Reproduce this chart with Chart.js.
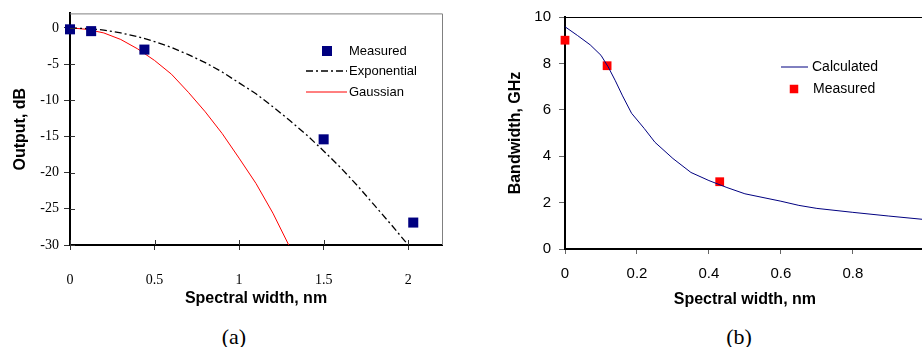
<!DOCTYPE html>
<html>
<head>
<meta charset="utf-8">
<script src="https://cdn.jsdelivr.net/npm/chart.js@4.4.0/dist/chart.umd.min.js"></script>
<style>
  body { margin: 0; width: 922px; height: 347px; overflow: hidden; background: #fff; position: relative; }
  .box { position: absolute; top: 0; height: 320px; }
  #boxA { left: 0; width: 461px; }
  #boxB { left: 461px; width: 470px; }
  .cap { position: absolute; top: 324px; width: 60px; text-align: center; line-height: 26px;
         font-family: "Liberation Serif", "Times New Roman", serif; font-size: 22px; }
</style>
</head>
<body>
<div class="box" id="boxA"><canvas id="chartA"></canvas></div>
<div class="box" id="boxB"><canvas id="chartB"></canvas></div>
<div class="cap" style="left:204px">(a)</div>
<div class="cap" style="left:709px">(b)</div>
<script>
  // (a) output vs spectral width
  const measAx = [0, 0.125, 0.44, 1.5, 2.03];
  const measAy = [-0.2, -0.45, -3.0, -15.4, -26.9];
  const expAx = [0, 0.1, 0.2, 0.3, 0.4, 0.5, 0.6, 0.7, 0.8, 0.9, 1.0, 1.1, 1.2, 1.3, 1.4, 1.5, 1.6, 1.7, 1.8, 1.9, 2.0];
  const expAy = [0, -0.1, -0.3, -0.7, -1.2, -1.9, -2.7, -3.7, -4.8, -6.1, -7.6, -9.1, -10.9, -12.8, -14.8, -17.0, -19.3, -21.8, -24.5, -27.2, -30.0];
  const gaussAx = [0, 0.1, 0.2, 0.3, 0.4, 0.5, 0.6, 0.7, 0.8, 0.9, 1.0, 1.1, 1.2, 1.3];
  const gaussAy = [0, -0.2, -0.7, -1.6, -2.9, -4.5, -6.4, -8.9, -11.6, -14.6, -18.0, -21.5, -25.6, -30.3];
  const xTicksA = [0, 0.5, 1, 1.5, 2];
  const yTicksA = [0, -5, -10, -15, -20, -25, -30];

  // (b) bandwidth vs spectral width
  const calcBx = [0, 0.035, 0.07, 0.1, 0.12, 0.14, 0.16, 0.185, 0.22, 0.25, 0.3, 0.35, 0.4, 0.45, 0.5, 0.6, 0.65, 0.7, 0.8, 0.9, 1.0];
  const calcBy = [9.58, 9.2, 8.8, 8.35, 7.85, 7.25, 6.6, 5.85, 5.2, 4.6, 3.9, 3.3, 2.95, 2.65, 2.38, 2.06, 1.88, 1.75, 1.58, 1.42, 1.27];
  const measBx = [0, 0.117, 0.43];
  const measBy = [9.0, 7.9, 2.9];
  const xTicksB = [0, 0.2, 0.4, 0.6, 0.8];
  const yTicksB = [0, 2, 4, 6, 8, 10];

  const pts = (xs, ys) => xs.map((x, i) => ({ x: x, y: ys[i] }));
  const setTicks = list => scale => { scale.ticks = list.map(v => ({ value: v })); };

  const SANS = '"Liberation Sans", Arial, sans-serif';
  const SERIF = '"Liberation Serif", "Times New Roman", serif';

  Chart.defaults.color = '#000';
  Chart.defaults.animation = false;

  // frame lines, inner tick stubs and legend
  const decor = {
    id: 'decor',
    afterDraw(chart, args, o) {
      const { ctx, chartArea: a, scales } = chart;
      ctx.save();
      ctx.lineWidth = 1;
      ctx.strokeStyle = o.frameColor;
      ctx.beginPath();
      ctx.moveTo(a.left, a.top + 0.5);
      ctx.lineTo(a.right + 0.5, a.top + 0.5);
      ctx.lineTo(a.right + 0.5, a.bottom);
      ctx.stroke();

      if (o.innerTicks) {
        ctx.strokeStyle = '#333';
        ctx.beginPath();
        scales.x.ticks.forEach(t => {
          const px = Math.round(scales.x.getPixelForValue(t.value)) + 0.5;
          ctx.moveTo(px, a.bottom); ctx.lineTo(px, a.bottom - 5);
        });
        scales.y.ticks.forEach(t => {
          const py = Math.round(scales.y.getPixelForValue(t.value)) + 0.5;
          ctx.moveTo(a.left, py); ctx.lineTo(a.left + 5, py);
        });
        ctx.stroke();
      }

      ctx.font = o.font;
      ctx.textBaseline = 'middle';
      ctx.fillStyle = '#000';
      o.items.forEach(it => {
        const ds = chart.data.datasets[it.ds];
        if (it.kind === 'rect') {
          ctx.fillStyle = ds.pointBackgroundColor;
          ctx.fillRect(it.x - it.size / 2, it.y - it.size / 2, it.size, it.size);
        } else {
          ctx.strokeStyle = ds.borderColor;
          ctx.lineWidth = ds.borderWidth;
          ctx.setLineDash(ds.borderDash || []);
          ctx.beginPath();
          ctx.moveTo(it.x1, it.y); ctx.lineTo(it.x2, it.y);
          ctx.stroke();
          ctx.setLineDash([]);
        }
        ctx.fillStyle = '#000';
        ctx.fillText(ds.label, it.tx, it.y);
      });
      ctx.restore();
    }
  };

  new Chart(document.getElementById('chartA'), {
    type: 'scatter',
    data: {
      datasets: [
        { label: 'Measured', data: pts(measAx, measAy), pointStyle: 'rect', pointRadius: 7.1,
          pointBackgroundColor: '#000080', pointBorderWidth: 0, clip: false },
        { label: 'Exponential', data: pts(expAx, expAy), showLine: true, pointRadius: 0,
          borderColor: '#000', borderWidth: 1.3, borderDash: [7, 3, 2, 3] },
        { label: 'Gaussian', data: pts(gaussAx, gaussAy), showLine: true, pointRadius: 0,
          borderColor: '#ff0000', borderWidth: 1 }
      ]
    },
    options: {
      responsive: true,
      maintainAspectRatio: false,
      layout: { padding: { top: 10, right: 19, left: 0, bottom: 0 } },
      plugins: {
        legend: { display: false },
        tooltip: { enabled: false },
        decor: {
          frameColor: '#808080', innerTicks: true, font: '13px ' + SANS,
          items: [
            { ds: 0, kind: 'rect', x: 327, y: 51, size: 10, tx: 349 },
            { ds: 1, kind: 'line', x1: 306, x2: 347, y: 71, tx: 349 },
            { ds: 2, kind: 'line', x1: 306, x2: 347, y: 92, tx: 349 }
          ]
        }
      },
      scales: {
        x: {
          type: 'linear', min: 0, max: 2.2,
          afterBuildTicks: setTicks(xTicksA),
          afterFit: s => { s.height = 75; },
          border: { color: '#000', width: 2 },
          grid: { drawOnChartArea: false, tickLength: 5, tickColor: '#333' },
          ticks: { font: { family: SERIF, size: 14 }, padding: 22, maxRotation: 0, callback: v => String(v) },
          title: { display: true, text: 'Spectral width, nm', font: { family: SANS, size: 16, weight: 'bold' },
                   padding: { top: 0, bottom: 12 } }
        },
        y: {
          type: 'linear', min: -30, max: 2,
          afterBuildTicks: setTicks(yTicksA),
          afterFit: s => { s.width = 70; },
          border: { color: '#000', width: 2 },
          grid: { drawOnChartArea: false, tickLength: 6, tickColor: '#333' },
          ticks: { font: { family: SERIF, size: 14 }, padding: 5, callback: v => String(v) },
          title: { display: true, text: 'Output, dB', font: { family: SANS, size: 16, weight: 'bold' },
                   padding: { top: 11, bottom: 0 } }
        }
      }
    },
    plugins: [decor]
  });

  new Chart(document.getElementById('chartB'), {
    type: 'scatter',
    data: {
      datasets: [
        { label: 'Calculated', data: pts(calcBx, calcBy), showLine: true, pointRadius: 0,
          borderColor: '#000080', borderWidth: 1 },
        { label: 'Measured', data: pts(measBx, measBy), pointStyle: 'rect', pointRadius: 6.2,
          pointBackgroundColor: '#ff0000', pointBorderWidth: 0, clip: false }
      ]
    },
    options: {
      responsive: true,
      maintainAspectRatio: false,
      layout: { padding: { top: 15, right: 4, left: 0, bottom: 0 } },
      plugins: {
        legend: { display: false },
        tooltip: { enabled: false },
        decor: {
          frameColor: '#000', innerTicks: false, font: '14px ' + SANS,
          items: [
            { ds: 0, kind: 'line', x1: 320, x2: 347, y: 67, tx: 351 },
            { ds: 1, kind: 'rect', x: 333, y: 89, size: 8.5, tx: 352 }
          ]
        }
      },
      scales: {
        x: {
          type: 'linear', min: 0, max: 1.0,
          afterBuildTicks: setTicks(xTicksB),
          afterFit: s => { s.height = 71; },
          border: { color: '#000', width: 2 },
          grid: { drawOnChartArea: false, tickLength: 5, tickColor: '#666' },
          ticks: { font: { family: SANS, size: 15 }, padding: 11, maxRotation: 0, callback: v => String(v) },
          title: { display: true, text: 'Spectral width, nm', font: { family: SANS, size: 16, weight: 'bold' },
                   padding: { top: 0, bottom: 11 } }
        },
        y: {
          type: 'linear', min: 0, max: 10,
          afterBuildTicks: setTicks(yTicksB),
          afterFit: s => { s.width = 104; },
          border: { color: '#000', width: 2 },
          grid: { drawOnChartArea: false, tickLength: 6, tickColor: '#666' },
          ticks: { font: { family: SANS, size: 15 }, padding: 8, callback: v => String(v) },
          title: { display: true, text: 'Bandwidth, GHz', font: { family: SANS, size: 16, weight: 'bold' },
                   padding: { top: 45, bottom: 0 } }
        }
      }
    },
    plugins: [decor]
  });
</script>
</body>
</html>
